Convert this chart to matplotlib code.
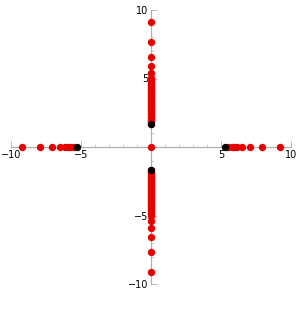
import matplotlib
matplotlib.use('Agg')
import matplotlib.pyplot as plt
import numpy as np

# red points on the real axis (mirrored left/right)
real_red = [5.5, 5.75, 5.95, 6.15, 6.5, 7.07, 7.9, 9.2]
real_black = [5.3]

# red points on the imaginary axis (mirrored up/down)
imag_red = [1.7, 1.8, 1.9, 2.0, 2.1, 2.2, 2.3, 2.4, 2.5, 2.6, 2.7, 2.8, 2.9,
            3.0, 3.1, 3.2, 3.3, 3.4, 3.5, 3.6, 3.7, 3.8, 3.9, 4.0, 4.1, 4.2,
            4.3, 4.4, 4.5, 4.6, 4.75, 4.9, 5.05, 5.4, 5.9, 6.6, 7.7, 9.15]
imag_black = [1.65]

fig = plt.figure(figsize=(2.98, 3.14), dpi=100)
ax = fig.add_axes([11 / 298, 30 / 314, 280 / 298, 274 / 314])

ms = 5.3
rx = real_red + [-v for v in real_red]
ry = imag_red + [-v for v in imag_red]
ax.plot(rx, [0] * len(rx), 'o', color='#e60000', ms=ms, mec='none', zorder=3)
ax.plot([0] * len(ry), ry, 'o', color='#e60000', ms=ms, mec='none', zorder=3)
ax.plot([0], [0], 'o', color='#e60000', ms=ms, mec='none', zorder=3)
bx = real_black + [-v for v in real_black]
by = imag_black + [-v for v in imag_black]
ax.plot(bx, [0] * len(bx), 'o', color='black', ms=ms, mec='none', zorder=4)
ax.plot([0] * len(by), by, 'o', color='black', ms=ms, mec='none', zorder=4)

ax.set_xlim(-10, 10)
ax.set_ylim(-10, 10)
for side in ['top', 'right']:
    ax.spines[side].set_visible(False)
ax.spines['left'].set_position('zero')
ax.spines['bottom'].set_position('zero')
for side in ['left', 'bottom']:
    ax.spines[side].set_color('#b0b0b0')
    ax.spines[side].set_linewidth(0.9)
ax.patch.set_visible(False)

ticks = [-10, -5, 5, 10]
ax.set_xticks(ticks)
ax.set_yticks(ticks)
ax.set_xticklabels(['\u221210', '\u22125', '5', '10'])
ax.set_yticklabels(['\u221210', '\u22125', '5', '10'])
ax.set_xticks(np.arange(-9, 10), minor=True)
ax.set_yticks(np.arange(-9, 10), minor=True)
ax.tick_params(which='major', direction='in', length=4, width=0.6, color='#b0b0b0', labelsize=7, pad=2)
ax.tick_params(which='minor', direction='in', length=2, width=0.5, color='#c0c0c0')

fig.savefig('out.png', dpi=100)
